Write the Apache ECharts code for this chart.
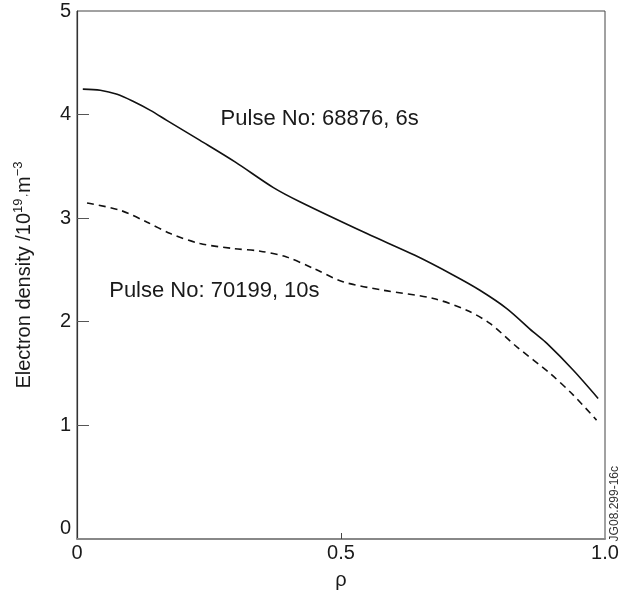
<!DOCTYPE html>
<html>
<head>
<meta charset="utf-8">
<script src="https://cdn.jsdelivr.net/npm/echarts@6/dist/echarts.min.js"></script>
<style>
html,body{margin:0;padding:0;background:#fff;}
#c{width:631px;height:597px;}
</style>
</head>
<body>
<div id="c"></div>
<script>
// Pulse No: 68876, 6s (solid)
const solidRho = [0.011, 0.044, 0.076, 0.107, 0.139, 0.170, 0.233, 0.300, 0.372, 0.423, 0.549, 0.640, 0.713, 0.763, 0.814, 0.864, 0.890, 0.940, 0.987];
const solidNe  = [4.245, 4.235, 4.195, 4.125, 4.040, 3.944, 3.750, 3.540, 3.294, 3.155, 2.850, 2.640, 2.448, 2.303, 2.126, 1.900, 1.789, 1.530, 1.258];
// Pulse No: 70199, 10s (dashed)
const dashRho = [0.019, 0.082, 0.132, 0.177, 0.233, 0.296, 0.347, 0.397, 0.448, 0.505, 0.580, 0.675, 0.738, 0.782, 0.833, 0.896, 0.940, 0.984];
const dashNe  = [3.146, 3.075, 2.962, 2.850, 2.754, 2.706, 2.680, 2.624, 2.513, 2.383, 2.303, 2.223, 2.110, 1.982, 1.756, 1.499, 1.290, 1.048];
// annotation labels (anchored in data coordinates)
const annoText = ['Pulse No: 68876, 6s', 'Pulse No: 70199, 10s'];
const annoRho  = [0.272, 0.061];
const annoNe   = [3.96, 2.30];
// axis ticks
const xTickLabels = [0, 0.5, 1.0];
const yTickLabels = [0, 1, 2, 3, 4, 5];

const zip = (a, b) => a.map((v, i) => [v, b[i]]);
const FONT = '"Liberation Sans", Arial, Helvetica, sans-serif';
const INK = '#1a1a1a';

const chart = echarts.init(document.getElementById('c'), null, {renderer: 'canvas'});
chart.setOption({
  animation: false,
  backgroundColor: '#fff',
  textStyle: {fontFamily: FONT},
  grid: {left: 77, right: 26, top: 11, bottom: 58, show: true, borderColor: '#444', borderWidth: 1},
  xAxis: {
    type: 'value', min: 0, max: 1,
    name: 'ρ', nameLocation: 'middle', nameGap: 31,
    nameTextStyle: {fontSize: 20, color: INK, fontFamily: FONT},
    axisLine: {show: true, onZero: false, lineStyle: {color: '#888', width: 2}},
    axisTick: {show: true, inside: true, length: 6, customValues: [0.5], lineStyle: {color: '#444', width: 1}},
    axisLabel: {show: true, customValues: xTickLabels, fontSize: 20, color: INK, margin: 4, fontFamily: FONT,
      formatter: v => (v === 0 ? '0' : v.toFixed(1))},
    splitLine: {show: false}
  },
  yAxis: {
    type: 'value', min: -0.1, max: 5,
    name: '{a|Electron density /10}{s|19}{c|,}{a|m}{s|−3}',
    nameLocation: 'middle', nameGap: 40, nameRotate: 90,
    nameTextStyle: {
      color: INK, fontFamily: FONT,
      rich: {
        a: {fontSize: 20, color: INK, fontFamily: FONT},
        s: {fontSize: 13, color: INK, fontFamily: FONT, padding: [0, 0, 12, 0]},
        c: {fontSize: 9, color: INK, fontFamily: FONT, padding: [0, 1, 0, 2]}
      }
    },
    axisLine: {show: true, onZero: false, lineStyle: {color: '#333', width: 1.2}},
    axisTick: {show: true, inside: true, length: 12, customValues: [1, 2, 3, 4], lineStyle: {color: '#555', width: 1}},
    axisLabel: {show: true, customValues: yTickLabels, fontSize: 20, color: INK, margin: 6, fontFamily: FONT},
    splitLine: {show: false}
  },
  series: [
    {
      name: 'Pulse No: 68876, 6s', type: 'line', data: zip(solidRho, solidNe),
      smooth: 0.3, showSymbol: false, symbol: 'none',
      lineStyle: {color: '#111', width: 1.6, type: 'solid'}
    },
    {
      name: 'Pulse No: 70199, 10s', type: 'line', data: zip(dashRho, dashNe),
      smooth: 0.3, showSymbol: false, symbol: 'none',
      lineStyle: {color: '#111', width: 1.6, type: [7, 5]}
    },
    {
      name: 'annotations', type: 'scatter', symbolSize: 0, silent: true,
      itemStyle: {opacity: 1},
      data: annoText.map((t, i) => ({name: t, value: [annoRho[i], annoNe[i]]})),
      label: {show: true, position: 'right', distance: 0, formatter: p => p.name,
        fontSize: 22, color: INK, opacity: 1, fontFamily: FONT}
    }
  ],
  graphic: [{
    type: 'text', left: 609, top: 466, rotation: Math.PI / 2,
    style: {text: 'JG08.299-16c', fontSize: 12, fill: '#333', fontFamily: FONT}
  }]
});
</script>
</body>
</html>
